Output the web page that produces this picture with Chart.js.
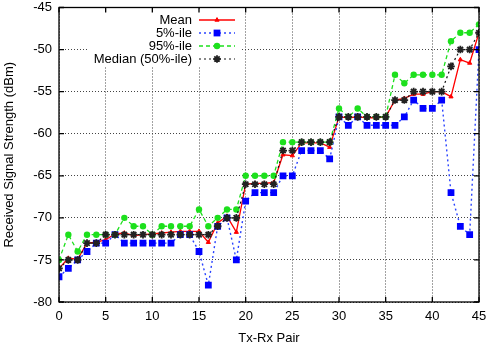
<!DOCTYPE html>
<html>
<head>
<meta charset="utf-8">
<style>
  html, body { margin: 0; padding: 0; background: #fff; }
  #wrap { width: 486px; height: 349px; position: relative; }
</style>
<script src="https://cdn.jsdelivr.net/npm/chart.js@4/dist/chart.umd.min.js"></script>
</head>
<body>
<div id="wrap"><canvas id="c" width="486" height="349"></canvas></div>
<script>
// Tx-Rx pair index
const pairs = [0,1,2,3,4,5,6,7,8,9,10,11,12,13,14,15,16,17,18,19,20,21,22,23,24,25,26,27,28,29,30,31,32,33,34,35,36,37,38,39,40,41,42,43,44,45];

// Received signal strength statistics (dBm) per pair
const meanVals = [-76,-74.8,-74.9,-73,-72.9,-72.6,-71.9,-71.8,-72.1,-72,
                  -71.9,-71.8,-71.7,-71.6,-71.6,-71.6,-72.9,-70.6,-69.8,-71.7,
                  -66,-65.9,-65.9,-65.8,-62.5,-62.6,-61.1,-61.1,-61.1,-61.6,
                  -58,-58.1,-58,-58.1,-58.1,-58,-56,-55.8,-55.3,-55.3,
                  -55,-55,-55.6,-51.2,-51.6,-48];
const p5Vals = [-77,-76,-75,-74,-73,-73,-72,-73,-73,-73,
                -73,-73,-73,-72,-72,-74,-78,-71,-70,-75,
                -68,-67,-67,-67,-65,-65,-62,-62,-62,-63,
                -58,-59,-58,-59,-59,-59,-59,-58,-56,-57,
                -57,-56,-67,-71,-72,-50];
const p95Vals = [-75,-72,-74,-72,-72,-72,-72,-70,-71,-71,
                 -72,-71,-71,-71,-71,-69,-71,-70,-69,-69,
                 -65,-65,-65,-65,-61,-61,-61,-61,-61,-61,
                 -57,-58,-57,-58,-58,-58,-53,-54,-53,-53,
                 -53,-53,-49,-48,-48,-47];
const medianVals = [-76,-75,-75,-73,-73,-72,-72,-72,-72,-72,
                    -72,-72,-72,-72,-72,-72,-72,-71,-70,-70,
                    -66,-66,-66,-66,-62,-62,-61,-61,-61,-61,
                    -58,-58,-58,-58,-58,-58,-56,-56,-55,-55,
                    -55,-55,-52,-50,-50,-48];

// Axis ticks
const xTicks = [0,5,10,15,20,25,30,35,40,45];
const yTicks = [-80,-75,-70,-65,-60,-55,-50,-45];

const FONT = '"Liberation Sans", Arial, sans-serif';
const toPoints = vals => pairs.map((p, i) => ({ x: p, y: vals[i] }));

const datasets = [
  { label: 'Mean', data: toPoints(meanVals), borderColor: '#ff0000', backgroundColor: '#ff0000',
    borderWidth: 1.3, pointStyle: 'triangle', pointRadius: 2.4, pointBorderWidth: 1, order: 3 },
  { label: '5%-ile', data: toPoints(p5Vals), borderColor: '#2b44ff', backgroundColor: '#0000ff',
    pointBorderColor: '#0000ff', borderWidth: 1.4, borderDash: [2, 3], pointStyle: 'rect',
    pointRadius: 4.8, pointBorderWidth: 0, order: 2 },
  { label: '95%-ile', data: toPoints(p95Vals), borderColor: '#1de01d', backgroundColor: '#1de01d',
    borderWidth: 1.3, borderDash: [4, 3], pointStyle: 'circle', pointRadius: 3.2, pointBorderWidth: 0, order: 1 },
  { label: 'Median (50%-ile)', data: toPoints(medianVals), borderColor: '#111', backgroundColor: '#111',
    pointBorderColor: '#222', borderWidth: 1.2, borderDash: [2, 3], pointStyle: 'star',
    pointRadius: 3.8, pointBorderWidth: 1.8, order: 0 }
];
datasets.forEach(d => { d.fill = false; d.tension = 0; d.showLine = true; });

// Key with right-aligned labels and line samples, on a white patch
const keyPlugin = {
  id: 'key',
  beforeDatasetsDraw(chart) {
    const ctx = chart.ctx;
    ctx.save();
    ctx.fillStyle = '#fff';
    ctx.fillRect(88, 9, 152, 57);
    ctx.font = '13px ' + FONT;
    ctx.textAlign = 'right';
    ctx.textBaseline = 'middle';
    const rows = [20, 33, 46, 59];
    chart.data.datasets.forEach((ds, i) => {
      const y = rows[i];
      ctx.fillStyle = '#000';
      ctx.fillText(ds.label, 192, y);
      ctx.save();
      ctx.strokeStyle = ds.borderColor;
      ctx.lineWidth = ds.borderWidth;
      ctx.setLineDash(ds.borderDash || []);
      ctx.beginPath();
      ctx.moveTo(199, y);
      ctx.lineTo(235, y);
      ctx.stroke();
      ctx.restore();
      ctx.save();
      ctx.fillStyle = ds.backgroundColor;
      ctx.strokeStyle = ds.pointBorderColor || ds.borderColor;
      ctx.lineWidth = ds.pointBorderWidth;
      Chart.helpers.drawPoint(ctx, {
        pointStyle: ds.pointStyle, radius: ds.pointRadius, rotation: 0,
        borderWidth: ds.pointBorderWidth
      }, 217, y);
      ctx.restore();
    });
    ctx.restore();
  }
};

// Plot frame with inward tick marks on all four sides
const framePlugin = {
  id: 'frame',
  afterDraw(chart) {
    const { ctx, chartArea: a, scales } = chart;
    ctx.save();
    ctx.strokeStyle = '#000';
    ctx.lineWidth = 1.3;
    ctx.strokeRect(a.left, a.top, a.right - a.left, a.bottom - a.top);
    const len = 5;
    ctx.beginPath();
    xTicks.forEach(v => {
      const px = scales.x.getPixelForValue(v);
      ctx.moveTo(px, a.bottom); ctx.lineTo(px, a.bottom - len);
      ctx.moveTo(px, a.top); ctx.lineTo(px, a.top + len);
    });
    yTicks.forEach(v => {
      const py = scales.y.getPixelForValue(v);
      ctx.moveTo(a.left, py); ctx.lineTo(a.left + len, py);
      ctx.moveTo(a.right, py); ctx.lineTo(a.right - len, py);
    });
    ctx.stroke();
    ctx.restore();
  }
};

new Chart(document.getElementById('c'), {
  type: 'line',
  data: { datasets },
  plugins: [keyPlugin, framePlugin],
  options: {
    responsive: false,
    animation: false,
    devicePixelRatio: 1,
    layout: { padding: { top: 7.5, right: 7, left: 0, bottom: 0 } },
    plugins: { legend: { display: false }, tooltip: { enabled: false } },
    scales: {
      x: {
        type: 'linear', min: 0, max: 45,
        afterBuildTicks: s => { s.ticks = xTicks.map(v => ({ value: v })); },
        afterFit: s => { s.height = 47; s.paddingLeft = 0; s.paddingRight = 0; },
        ticks: { color: '#000', font: { family: FONT, size: 13 }, padding: 7, maxRotation: 0, autoSkip: false },
        grid: { color: '#444', lineWidth: 1, drawTicks: false },
        border: { display: false, dash: [1, 2] },
        title: { display: true, text: 'Tx-Rx Pair', color: '#000', font: { family: FONT, size: 13 }, padding: { top: 0, bottom: 3 } }
      },
      y: {
        type: 'linear', min: -80, max: -45,
        afterBuildTicks: s => { s.ticks = yTicks.map(v => ({ value: v })); },
        afterFit: s => { s.width = 59; s.paddingTop = 0; s.paddingBottom = 0; },
        ticks: { color: '#000', font: { family: FONT, size: 13 }, padding: 7 },
        grid: { color: '#444', lineWidth: 1, drawTicks: false },
        border: { display: false, dash: [1, 2] },
        title: { display: true, text: 'Received Signal Strength (dBm)', color: '#000', font: { family: FONT, size: 13 }, padding: { top: 2, bottom: 0 } }
      }
    }
  }
});
</script>
</body>
</html>
